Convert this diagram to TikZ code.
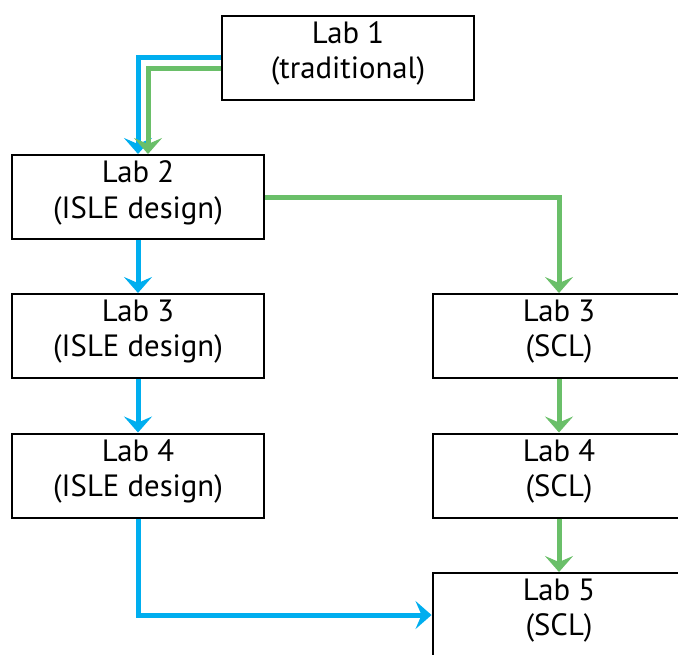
\documentclass[tikz,border=0pt]{standalone}
\usepackage{fontspec}
\setmainfont{PT Sans}
\usetikzlibrary{arrows.meta}
\definecolor{labblue}{RGB}{0,174,239}
\definecolor{labgreen}{RGB}{106,191,105}

\begin{document}
\begin{tikzpicture}[x=0.02cm,y=-0.02cm,
  labbox/.style={draw=black, line width=0.04cm, minimum width=5.06cm, minimum height=1.68cm, align=center, inner sep=0pt, text depth=0.3cm, font=\fontsize{17.5}{20}\selectfont},
  blueflow/.style={draw=labblue, line width=0.1cm, -{Stealth[length=0.32cm, width=0.56cm, inset=0.12cm]}},
  greenflow/.style={draw=labgreen, line width=0.1cm, -{Stealth[length=0.32cm, width=0.56cm, inset=0.12cm]}}]
\useasboundingbox (0,0) rectangle (678,654);
\node[labbox] (lab1) at (348,57.5) {Lab 1\\(traditional)};
\node[labbox] (lab2) at (138,197) {Lab 2\\(ISLE design)};
\node[labbox] (lab3) at (138,336) {Lab 3\\(ISLE design)};
\node[labbox] (lab4) at (138,475.5) {Lab 4\\(ISLE design)};
\node[labbox] (lab3scl) at (559,336) {Lab 3\\(SCL)};
\node[labbox] (lab4scl) at (559,475.5) {Lab 4\\(SCL)};
\node[labbox] (lab5scl) at (559,615) {Lab 5\\(SCL)};
% ISLE path
\draw[blueflow] (lab1.west) -| (lab2.north);
\draw[blueflow] (lab2) -- (lab3);
\draw[blueflow] (lab3) -- (lab4);
\draw[blueflow] (lab4.south) |- (lab5scl.west);
% SCL path
\draw[greenflow] ([yshift=-0.22cm]lab1.west) -| ([xshift=0.2cm]lab2.north);
\draw[greenflow] (lab2.east) -| (lab3scl.north);
\draw[greenflow] (lab3scl) -- (lab4scl);
\draw[greenflow] (lab4scl) -- (lab5scl);
\end{tikzpicture}
\end{document}
